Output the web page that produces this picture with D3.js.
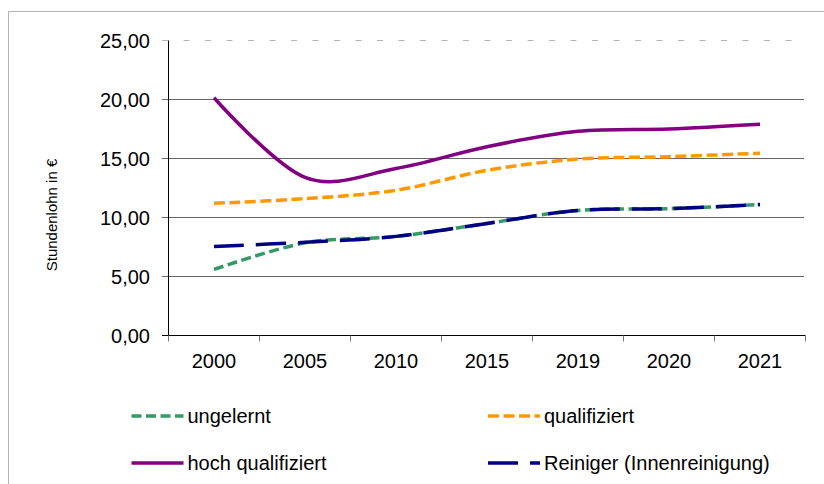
<!DOCTYPE html>
<html>
<head>
<meta charset="utf-8">
<script src="https://cdn.jsdelivr.net/npm/d3@7"></script>
<style>
  body { margin: 0; background: #fff; }
  svg { display: block; font-family: "Liberation Sans", Arial, sans-serif; }
</style>
</head>
<body>
<div id="chart"></div>
<script>
const years = ['2000', '2005', '2010', '2015', '2019', '2020', '2021'];
const yTicks = [0, 5, 10, 15, 20, 25];

const ungelernt = [5.6, 7.85, 8.4, 9.5, 10.6, 10.75, 11.1];
const qualifiziert = [11.2, 11.6, 12.3, 14.0, 14.95, 15.15, 15.45];
const hochQualifiziert = [20.15, 13.4, 14.15, 16.0, 17.3, 17.5, 17.9];
const reiniger = [7.55, 7.9, 8.4, 9.5, 10.6, 10.75, 11.1];

const seriesNames = ['ungelernt', 'qualifiziert', 'hoch qualifiziert', 'Reiniger (Innenreinigung)'];

const width = 824;
const height = 484;

const series = [
    { name: seriesNames[0], values: ungelernt, color: '#339966', dash: '10,4.5' },
    { name: seriesNames[1], values: qualifiziert, color: '#ff9900', dash: '11,4.5' },
    { name: seriesNames[2], values: hochQualifiziert, color: '#800080', dash: null },
    { name: seriesNames[3], values: reiniger, color: '#000080', dash: '30,12' }
];

const svg = d3.select('#chart').append('svg')
    .attr('width', width)
    .attr('height', height);

// outer frame (right and bottom edges sit outside the picture)
svg.append('rect')
    .attr('x', 8.5)
    .attr('y', 11.5)
    .attr('width', 840)
    .attr('height', 500)
    .attr('fill', 'none')
    .attr('stroke', '#b3b3b3');

const x = d3.scaleBand().domain(years).range([168.5, 805.5]).padding(0);
const y = d3.scaleLinear().domain([0, 25]).range([335.5, 40.5]);

// gridlines
svg.append('g')
    .selectAll('line')
    .data(yTicks.filter(d => d > 0 && d < 25))
    .enter().append('line')
    .attr('x1', 162)
    .attr('x2', 804)
    .attr('y1', d => y(d))
    .attr('y2', d => y(d))
    .attr('stroke', '#666')
    .attr('stroke-width', 1);

svg.append('line')
    .attr('x1', 162)
    .attr('x2', 794)
    .attr('y1', y(25))
    .attr('y2', y(25))
    .attr('stroke', '#b3b3b3')
    .attr('stroke-dasharray', '6,15.5');

// y axis
const yAxis = svg.append('g');
yAxis.append('line')
    .attr('x1', 168.5)
    .attr('x2', 168.5)
    .attr('y1', y(25))
    .attr('y2', y(0))
    .attr('stroke', '#000');
yAxis.selectAll('line.tick')
    .data([0])
    .enter().append('line')
    .attr('class', 'tick')
    .attr('x1', 162)
    .attr('x2', 168.5)
    .attr('y1', d => y(d))
    .attr('y2', d => y(d))
    .attr('stroke', '#666');
yAxis.selectAll('text')
    .data(yTicks)
    .enter().append('text')
    .attr('x', 150)
    .attr('y', d => y(d))
    .attr('dy', '0.35em')
    .attr('text-anchor', 'end')
    .attr('font-size', 20)
    .attr('fill', '#000')
    .text(d => d3.format('.2f')(d).replace('.', ','));

// x axis
const xAxis = svg.append('g');
xAxis.append('line')
    .attr('x1', 162)
    .attr('x2', 805.5)
    .attr('y1', y(0))
    .attr('y2', y(0))
    .attr('stroke', '#000');
xAxis.selectAll('line.tick')
    .data(years.concat(['end']))
    .enter().append('line')
    .attr('class', 'tick')
    .attr('x1', (d, i) => i < years.length ? x(d) : x.range()[1])
    .attr('x2', (d, i) => i < years.length ? x(d) : x.range()[1])
    .attr('y1', y(0))
    .attr('y2', y(0) + 6)
    .attr('stroke', '#777');
xAxis.selectAll('text')
    .data(years)
    .enter().append('text')
    .attr('x', d => x(d) + x.bandwidth() / 2)
    .attr('y', 367.5)
    .attr('text-anchor', 'middle')
    .attr('font-size', 20)
    .attr('fill', '#000')
    .text(d => d);

svg.append('text')
    .attr('transform', 'translate(57,215) rotate(-90)')
    .attr('text-anchor', 'middle')
    .attr('font-size', 15)
    .attr('fill', '#000')
    .text('Stundenlohn in €');

// lines
const line = d3.line()
    .x((d, i) => x(years[i]) + x.bandwidth() / 2)
    .y(d => y(d))
    .curve(d3.curveCatmullRom.alpha(0));

svg.append('g')
    .selectAll('path')
    .data(series)
    .enter().append('path')
    .attr('d', d => line(d.values))
    .attr('fill', 'none')
    .attr('stroke', d => d.color)
    .attr('stroke-width', 3.5)
    .attr('stroke-dasharray', d => d.dash);

// legend
const legendCols = [131.5, 488];
const legendRows = [416, 463];
const legend = svg.append('g')
    .selectAll('g')
    .data(series)
    .enter().append('g')
    .attr('transform', (d, i) => `translate(${legendCols[i % 2]},${legendRows[Math.floor(i / 2)]})`);

legend.append('line')
    .attr('x1', 0)
    .attr('x2', 52)
    .attr('y1', 0)
    .attr('y2', 0)
    .attr('stroke', d => d.color)
    .attr('stroke-width', 3.5)
    .attr('stroke-dasharray', d => d.dash);

legend.append('text')
    .attr('x', 56)
    .attr('y', 0)
    .attr('dy', '0.35em')
    .attr('font-size', 20)
    .attr('fill', '#000')
    .text(d => d.name);
</script>
</body>
</html>
